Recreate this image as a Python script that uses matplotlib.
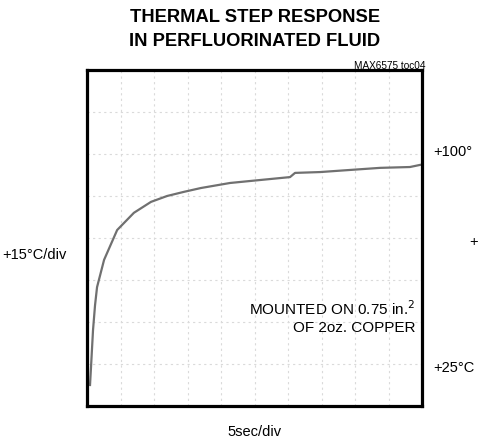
import matplotlib.pyplot as plt
import numpy as np

# trace, in divisions (10 x 8 screen)
t_div = [0.09, 0.12, 0.18, 0.24, 0.30, 0.51, 0.90, 1.40, 1.91, 2.39, 2.90, 3.40,
         4.27, 5.16, 6.06, 6.21, 6.96, 7.85, 8.75, 9.64, 9.94]
temp_div = [0.5, 0.93, 1.81, 2.40, 2.83, 3.48, 4.19, 4.60, 4.86, 5.00, 5.10, 5.19,
            5.31, 5.38, 5.45, 5.55, 5.57, 5.62, 5.67, 5.69, 5.74]

plt.rcParams['font.family'] = ['Liberation Sans', 'DejaVu Sans']

fig = plt.figure(figsize=(4.8, 4.38), dpi=100)
ax = fig.add_axes([87/480, 32/438, 335/480, 336/438])

ax.plot(t_div, temp_div, color='#707070', lw=1.6)
ax.set_xlim(0, 10)
ax.set_ylim(0, 8)
ax.set_xticks(np.arange(0, 11, 1))
ax.set_yticks(np.arange(0, 9, 1))
ax.grid(True, color='#dadada', ls=(0, (2, 3)), lw=0.8)
ax.tick_params(length=0, labelbottom=False, labelleft=False)
for s in ax.spines.values():
    s.set_linewidth(2.3)
    s.set_color('black')

fig.text(255/480, 1 - 17/438, 'THERMAL STEP RESPONSE', ha='center', va='center',
         fontsize=13.2, fontweight='bold')
fig.text(255/480, 1 - 41/438, 'IN PERFLUORINATED FLUID', ha='center', va='center',
         fontsize=13.2, fontweight='bold')
fig.text(425/480, 1 - 66/438, 'MAX6575 toc04', ha='right', va='center', fontsize=7.2)

fig.text(2/480, 1 - 255/438, '+15°C/div', ha='left', va='center', fontsize=10.5)
fig.text(433/480, 1 - 152/438, '+100°', ha='left', va='center', fontsize=10.5)
fig.text(469/480, 1 - 242/438, '+', ha='left', va='center', fontsize=10.5)
fig.text(433/480, 1 - 368/438, '+25°C', ha='left', va='center', fontsize=10.5)
fig.text(255/480, 1 - 432/438, '5sec/div', ha='center', va='center', fontsize=10.5)

ax.text(0.98, 0.265, 'MOUNTED ON 0.75 in.$^2$\nOF 2oz. COPPER', transform=ax.transAxes,
        ha='right', va='center', fontsize=11, linespacing=1.25)

fig.savefig('out.png', dpi=100)
